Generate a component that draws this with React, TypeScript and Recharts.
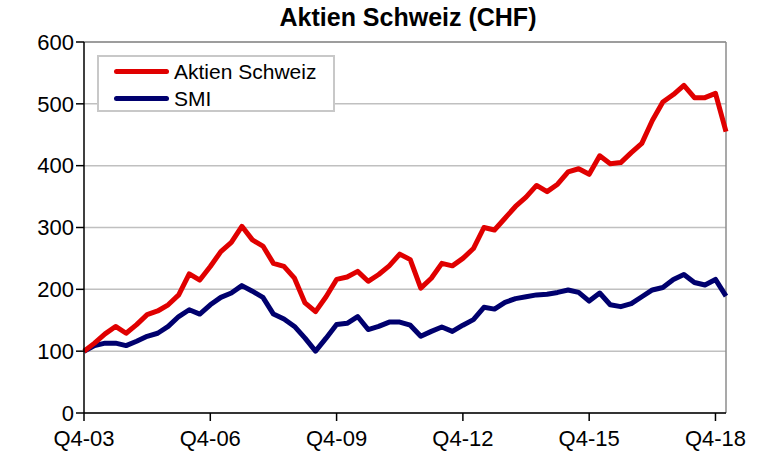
import { LineChart, Line, XAxis, YAxis, CartesianGrid, ReferenceLine } from "recharts";

// quarter labels Q4-03 .. Q1-19
const quarters: string[] = (() => {
  const out: string[] = [];
  let y = 3;
  let q = 4;
  while (!(y === 19 && q === 2)) {
    out.push(`Q${q}-${String(y).padStart(2, "0")}`);
    q++;
    if (q > 4) {
      q = 1;
      y++;
    }
  }
  return out;
})();

const aktienSchweiz = [
  100, 113, 128, 140, 129, 143, 159, 165, 175, 191,
  225, 215, 237, 261, 276, 302, 280, 270, 242, 237,
  218, 178, 164, 188, 216, 220, 229, 213, 224, 238,
  257, 248, 202, 218, 242, 238, 250, 266, 300, 296,
  315, 334, 349, 368, 358, 370, 390, 395, 386, 416,
  403, 405, 421, 436, 473, 503, 515, 530, 510, 510,
  517, 455,
];

const smi = [
  100, 109, 113, 113, 109, 116, 124, 129, 140, 156,
  167, 160, 175, 187, 194, 206, 197, 187, 160, 152,
  140, 121, 100, 121, 143, 145, 156, 135, 140, 147,
  147, 142, 124, 132, 139, 132, 142, 151, 171, 168,
  179, 185, 188, 191, 192, 195, 199, 195, 181, 194,
  175, 172, 177, 188, 199, 203, 216, 224, 211, 207,
  216, 189,
];

const xTicks = ["Q4-03", "Q4-06", "Q4-09", "Q4-12", "Q4-15", "Q4-18"];
const yTicks = [0, 100, 200, 300, 400, 500, 600];

const RED = "#e00000";
const NAVY = "#00006e";
const FONT = "'Liberation Sans', Arial, sans-serif";

const data = quarters.map((q, i) => ({ q, aktien: aktienSchweiz[i], smi: smi[i] }));

function LegendBox() {
  const rows = [
    { label: "Aktien Schweiz", color: RED },
    { label: "SMI", color: NAVY },
  ];
  return (
    <div
      style={{
        position: "absolute",
        left: 97,
        top: 55,
        border: "2px solid #c8c8c8",
        background: "#fff",
        width: 234,
        height: 52,
        boxSizing: "content-box",
        fontFamily: FONT,
        fontSize: 21,
        color: "#000",
        paddingTop: 1,
      }}
    >
      {rows.map((r) => (
        <div key={r.label} style={{ display: "flex", alignItems: "center", height: 27, lineHeight: "27px" }}>
          <div style={{ width: 55, height: 5, borderRadius: 3, background: r.color, marginLeft: 15, marginRight: 5 }} />
          <span>{r.label}</span>
        </div>
      ))}
    </div>
  );
}

export default function App() {
  return (
    <div style={{ position: "absolute", left: 0, top: 0, width: 767, height: 457, background: "#fff" }}>
      <div
        style={{
          position: "absolute",
          left: 84,
          width: 648,
          top: 3,
          textAlign: "center",
          fontFamily: FONT,
          fontWeight: "bold",
          fontSize: 25,
          color: "#000",
        }}
      >
        Aktien Schweiz (CHF)
      </div>
      <LineChart width={767} height={457} data={data} margin={{ top: 42, right: 41, bottom: 0, left: 0 }}>
        <CartesianGrid vertical={false} stroke="#c0c0c0" strokeWidth={1.5} />
        <ReferenceLine y={600} stroke="#8c8c8c" strokeWidth={1.5} />
        <ReferenceLine x="Q1-19" stroke="#8c8c8c" strokeWidth={1.5} />
        <XAxis
          dataKey="q"
          ticks={xTicks}
          interval={0}
          height={44}
          tickSize={8}
          tickMargin={9}
          axisLine={{ stroke: "#000", strokeWidth: 1.5 }}
          tickLine={{ stroke: "#000", strokeWidth: 1.5 }}
          tick={{ fontSize: 22, fill: "#000", fontFamily: FONT }}
        />
        <YAxis
          domain={[0, 600]}
          ticks={yTicks}
          interval={0}
          width={84}
          tickSize={8}
          tickMargin={2}
          axisLine={{ stroke: "#000", strokeWidth: 1.5 }}
          tickLine={{ stroke: "#000", strokeWidth: 1.5 }}
          tick={{ fontSize: 22, fill: "#000", fontFamily: FONT }}
        />
        <Line
          type="linear"
          dataKey="smi"
          stroke={NAVY}
          strokeWidth={5}
          strokeLinejoin="round"
          dot={false}
          isAnimationActive={false}
        />
        <Line
          type="linear"
          dataKey="aktien"
          stroke={RED}
          strokeWidth={5}
          strokeLinejoin="round"
          dot={false}
          isAnimationActive={false}
        />
      </LineChart>
      <LegendBox />
    </div>
  );
}
